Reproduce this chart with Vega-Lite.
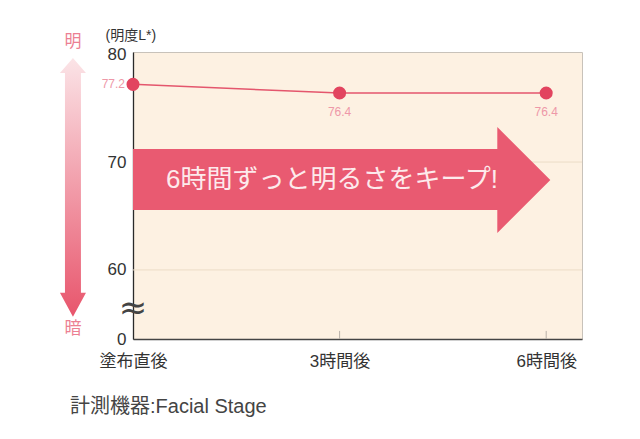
{
  "$schema": "https://vega.github.io/schema/vega-lite/v6.json",
  "width": 449,
  "height": 287,
  "autosize": {"type": "none"},
  "padding": {"left": 133, "top": 52, "right": 58, "bottom": 100},
  "background": "#ffffff",
  "config": {
    "font": "Liberation Sans, Noto Sans CJK JP",
    "view": {"fill": "#fdf1e2", "stroke": "#c8c2ba", "strokeWidth": 1}
  },
  "title": {
    "text": "計測機器:Facial Stage",
    "orient": "bottom",
    "anchor": "start",
    "frame": "group",
    "dx": -63,
    "offset": 28,
    "fontSize": 20,
    "fontWeight": "normal",
    "color": "#444444"
  },
  "datasets": {
    "series": [
      {"t": 0, "L": 77.2, "label": "77.2"},
      {"t": 3, "L": 76.4, "label": "76.4"},
      {"t": 6, "L": 76.4, "label": "76.4"}
    ],
    "grid": [{"v": 60}, {"v": 70}],
    "xticks": [{"t": 3, "lo": 53.6, "hi": 54.35}, {"t": 6, "lo": 53.6, "hi": 54.35}],
    "bigArrow": [
      {"x": 0, "top": 71.2, "bottom": 65.56},
      {"x": 5.29, "top": 71.2, "bottom": 65.56},
      {"x": 5.2901, "top": 73.24, "bottom": 63.43},
      {"x": 6.06, "top": 68.33, "bottom": 68.33}
    ],
    "sideArrow": [
      {"y": 55.66, "xa": -0.872, "xb": -0.872},
      {"y": 57.89, "xa": -1.061, "xb": -0.683},
      {"y": 57.8901, "xa": -0.988, "xb": -0.756},
      {"y": 78.2599, "xa": -0.988, "xb": -0.756},
      {"y": 78.26, "xa": -1.061, "xb": -0.683},
      {"y": 79.64, "xa": -0.872, "xb": -0.872}
    ],
    "sideText": [
      {"x": -0.872, "y": 81.13, "text": "明"},
      {"x": -0.872, "y": 54.55, "text": "暗"}
    ],
    "arrowText": [{"x": 2.89, "y": 68.35, "text": "6時間ずっと明るさをキープ!"}],
    "breakMark": [{"x": 0, "y": 56.4, "text": "≈"}]
  },
  "layer": [
    {
      "data": {"name": "grid"},
      "mark": {"type": "rule", "color": "#ecdcc6", "strokeWidth": 1},
      "encoding": {
        "y": {
          "field": "v",
          "type": "quantitative",
          "scale": {"domain": [53.6, 80.2], "nice": false, "zero": false},
          "axis": {
            "values": [53.6, 60, 70, 80],
            "labelExpr": "datum.value < 55 ? '0' : datum.label",
            "title": "(明度L*)",
            "titleAngle": 0,
            "titleAlign": "left",
            "titleBaseline": "middle",
            "titleX": -28,
            "titleY": -17,
            "titleFontSize": 14,
            "titleFontWeight": "normal",
            "titleColor": "#333333",
            "grid": false,
            "ticks": false,
            "labelFontSize": 17,
            "labelColor": "#333333",
            "labelPadding": 7,
            "labelFlush": false,
            "domainColor": "#2a2a2a",
            "domainWidth": 1.3
          }
        }
      }
    },
    {
      "data": {"name": "xticks"},
      "mark": {"type": "rule", "color": "#b8b0a8", "strokeWidth": 1},
      "encoding": {
        "x": {"field": "t", "type": "quantitative"},
        "y": {"field": "lo", "type": "quantitative"},
        "y2": {"field": "hi"}
      }
    },
    {
      "data": {"name": "bigArrow"},
      "mark": {"type": "area", "color": "#e95a71", "clip": false},
      "encoding": {
        "x": {
          "field": "x",
          "type": "quantitative",
          "scale": {"domain": [0, 6.52], "nice": false, "zero": false},
          "axis": {
            "values": [0, 3, 6],
            "labelExpr": "datum.value == 0 ? '塗布直後' : datum.value == 3 ? '3時間後' : '6時間後'",
            "title": null,
            "grid": false,
            "ticks": false,
            "labelFlush": false,
            "labelFontSize": 17,
            "labelColor": "#333333",
            "labelPadding": 14,
            "domainColor": "#444444",
            "domainWidth": 1.3
          }
        },
        "y": {"field": "top", "type": "quantitative"},
        "y2": {"field": "bottom"}
      }
    },
    {
      "data": {"name": "arrowText"},
      "mark": {"type": "text", "fontSize": 26, "color": "#fdeaec", "align": "center", "baseline": "middle"},
      "encoding": {
        "x": {"field": "x", "type": "quantitative"},
        "y": {"field": "y", "type": "quantitative"},
        "text": {"field": "text"}
      }
    },
    {
      "data": {"name": "series"},
      "mark": {"type": "line", "color": "#e4566d", "strokeWidth": 1.5},
      "encoding": {
        "x": {"field": "t", "type": "quantitative"},
        "y": {"field": "L", "type": "quantitative"}
      }
    },
    {
      "data": {"name": "series"},
      "mark": {"type": "point", "filled": true, "opacity": 1, "size": 170, "color": "#e2445f"},
      "encoding": {
        "x": {"field": "t", "type": "quantitative"},
        "y": {"field": "L", "type": "quantitative"}
      }
    },
    {
      "data": {"name": "series"},
      "transform": [{"filter": "datum.t == 0"}],
      "mark": {"type": "text", "fontSize": 12, "color": "#ee98a8", "align": "right", "baseline": "middle", "dx": -8, "clip": false},
      "encoding": {
        "x": {"field": "t", "type": "quantitative"},
        "y": {"field": "L", "type": "quantitative"},
        "text": {"field": "label"}
      }
    },
    {
      "data": {"name": "series"},
      "transform": [{"filter": "datum.t > 0"}],
      "mark": {"type": "text", "fontSize": 12, "color": "#ee98a8", "align": "center", "baseline": "middle", "dy": 19},
      "encoding": {
        "x": {"field": "t", "type": "quantitative"},
        "y": {"field": "L", "type": "quantitative"},
        "text": {"field": "label"}
      }
    },
    {
      "data": {"name": "sideArrow"},
      "mark": {
        "type": "area",
        "orient": "horizontal",
        "clip": false,
        "fill": {
          "gradient": "linear",
          "x1": 0, "y1": 0, "x2": 0, "y2": 1,
          "stops": [
            {"offset": 0, "color": "#fbe4e7"},
            {"offset": 1, "color": "#e8556c"}
          ]
        }
      },
      "encoding": {
        "y": {"field": "y", "type": "quantitative"},
        "x": {"field": "xa", "type": "quantitative", "stack": null},
        "x2": {"field": "xb"}
      }
    },
    {
      "data": {"name": "sideText"},
      "mark": {"type": "text", "fontSize": 17, "color": "#ec7f93", "align": "center", "baseline": "middle", "clip": false},
      "encoding": {
        "x": {"field": "x", "type": "quantitative"},
        "y": {"field": "y", "type": "quantitative"},
        "text": {"field": "text"}
      }
    },
    {
      "data": {"name": "breakMark"},
      "mark": {"type": "text", "font": "DejaVu Sans", "fontSize": 34, "color": "#444444", "align": "center", "baseline": "middle", "clip": false},
      "encoding": {
        "x": {"field": "x", "type": "quantitative"},
        "y": {"field": "y", "type": "quantitative"},
        "text": {"field": "text"}
      }
    }
  ]
}
